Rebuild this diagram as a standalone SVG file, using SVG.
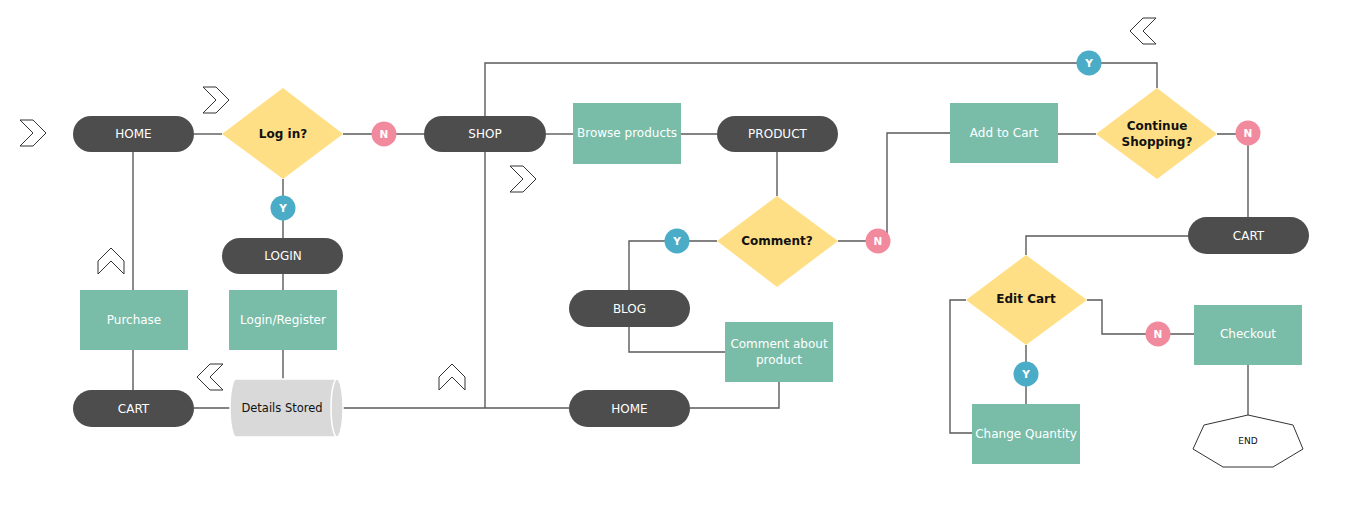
<svg xmlns="http://www.w3.org/2000/svg" width="1354" height="517" viewBox="0 0 1354 517">
<style>
.pill{fill:#4d4d4d}
.proc{fill:#79bda9}
.dec{fill:#ffdf85}
.yc{fill:#4aacc6}
.nc{fill:#f28a9e}
.ln{fill:none;stroke:#5a5a5a;stroke-width:1.4}
.chev{fill:#fff;stroke:#333;stroke-width:1}
.wt{font-family:"DejaVu Sans",Verdana,sans-serif;font-size:12px;fill:#fff;text-anchor:middle;dominant-baseline:central}
.bt{font-family:"DejaVu Sans",Verdana,sans-serif;font-size:12px;font-weight:bold;fill:#111;text-anchor:middle;dominant-baseline:central}
.ct{font-family:"DejaVu Sans",Verdana,sans-serif;font-size:10.5px;font-weight:bold;fill:#fff;text-anchor:middle;dominant-baseline:central}
.kt{font-family:"DejaVu Sans",Verdana,sans-serif;font-size:11.5px;fill:#111;text-anchor:middle;dominant-baseline:central}
</style>
<rect width="1354" height="517" fill="#fff"/>
<g id="connectors">
<path class="ln" d="M194,134 H222"/>
<path class="ln" d="M343,134 H424"/>
<path class="ln" d="M283,179 V238"/>
<path class="ln" d="M283,274 V290"/>
<path class="ln" d="M283,350 V379"/>
<path class="ln" d="M133,152 V290"/>
<path class="ln" d="M133,350 V390"/>
<path class="ln" d="M194,408 H230"/>
<path class="ln" d="M343,408 H569"/>
<path class="ln" d="M485,152 V408"/>
<path class="ln" d="M485,116 V63 H1157 V88"/>
<path class="ln" d="M546,134 H573"/>
<path class="ln" d="M681,134 H717"/>
<path class="ln" d="M777,152 V196"/>
<path class="ln" d="M717,241 H629 V290"/>
<path class="ln" d="M629,327 V352 H725"/>
<path class="ln" d="M779,382 V408 H690"/>
<path class="ln" d="M838,241 H887 V133 H950"/>
<path class="ln" d="M1058,134 H1096"/>
<path class="ln" d="M1217,134 H1248 V218"/>
<path class="ln" d="M1188,236 H1026 V255"/>
<path class="ln" d="M1026,345 V404"/>
<path class="ln" d="M966,300 H950 V433 H972"/>
<path class="ln" d="M1087,300 H1102 V334 H1194"/>
<path class="ln" d="M1248,364 V415"/>
</g>
<g id="chevrons">
<polygon class="chev" points="20,120 33,120 46,133 33,146 20,146 33,133"/>
<polygon class="chev" points="203,87 216,87 229,100 216,113 203,113 216,100"/>
<polygon class="chev" points="98,274 98,261 111,248 124,261 124,274 111,261"/>
<polygon class="chev" points="223,364 210,364 197,377 210,390 223,390 210,377"/>
<polygon class="chev" points="439,390 439,377 452,364 465,377 465,390 452,377"/>
<polygon class="chev" points="510,166 523,166 536,179 523,192 510,192 523,179"/>
<polygon class="chev" points="1156,18 1143,18 1130,31 1143,44 1156,44 1143,31"/>
</g>
<g id="home1"><rect class="pill" x="73" y="116" width="121" height="36" rx="18"/><text class="wt" x="133.5" y="134">HOME</text></g>
<g id="login-q"><polygon class="dec" points="283,88 343,134 283,179 222,134"/><text class="bt" x="283" y="134">Log in?</text></g>
<g id="n1"><circle class="nc" cx="384" cy="134" r="12.5"/><text class="ct" x="384" y="134">N</text></g>
<g id="y1"><circle class="yc" cx="283" cy="208" r="12.5"/><text class="ct" x="283" y="208">Y</text></g>
<g id="login"><rect class="pill" x="222" y="238" width="121" height="36" rx="18"/><text class="wt" x="283" y="256">LOGIN</text></g>
<g id="purchase"><rect class="proc" x="80" y="290" width="108" height="60"/><text class="wt" x="134" y="320">Purchase</text></g>
<g id="loginreg"><rect class="proc" x="229" y="290" width="108" height="60"/><text class="wt" x="283" y="320">Login/Register</text></g>
<g id="cart1"><rect class="pill" x="73" y="390" width="121" height="37" rx="18.5"/><text class="wt" x="133.5" y="408.5">CART</text></g>
<g id="details">
<path d="M236,379 H337 A6,29 0 0 1 337,437 H236 A6,29 0 0 1 236,379 Z" fill="#d9d9d9" stroke="#fff" stroke-width="1.5"/>
<path d="M337,379 A6,29 0 0 0 337,437" fill="none" stroke="#fff" stroke-width="1.5"/>
<text class="kt" x="282" y="408">Details Stored</text>
</g>
<g id="shop"><rect class="pill" x="424" y="116" width="122" height="36" rx="18"/><text class="wt" x="485" y="134">SHOP</text></g>
<g id="browse"><rect class="proc" x="573" y="103" width="108" height="61"/><text class="wt" x="627" y="133">Browse products</text></g>
<g id="product"><rect class="pill" x="717" y="116" width="121" height="36" rx="18"/><text class="wt" x="777.5" y="134">PRODUCT</text></g>
<g id="comment-q"><polygon class="dec" points="777,196 838,241 777,287 717,241"/><text class="bt" x="777" y="241">Comment?</text></g>
<g id="y2"><circle class="yc" cx="677" cy="241" r="12.5"/><text class="ct" x="677" y="241">Y</text></g>
<g id="n2"><circle class="nc" cx="878" cy="241" r="12.5"/><text class="ct" x="878" y="241">N</text></g>
<g id="blog"><rect class="pill" x="569" y="290" width="121" height="37" rx="18.5"/><text class="wt" x="629.5" y="308.5">BLOG</text></g>
<g id="comment-about"><rect class="proc" x="725" y="322" width="108" height="60"/><text class="wt" x="779" y="344">Comment about</text><text class="wt" x="779" y="360">product</text></g>
<g id="home2"><rect class="pill" x="569" y="390" width="121" height="37" rx="18.5"/><text class="wt" x="629.5" y="408.5">HOME</text></g>
<g id="addcart"><rect class="proc" x="950" y="103" width="108" height="60"/><text class="wt" x="1004" y="133">Add to Cart</text></g>
<g id="continue-q"><polygon class="dec" points="1157,88 1217,134 1157,179 1096,134"/><text class="bt" x="1157" y="126">Continue</text><text class="bt" x="1157" y="142">Shopping?</text></g>
<g id="y3"><circle class="yc" cx="1089" cy="63" r="12.5"/><text class="ct" x="1089" y="63">Y</text></g>
<g id="n3"><circle class="nc" cx="1248" cy="133" r="12.5"/><text class="ct" x="1248" y="133">N</text></g>
<g id="cart2"><rect class="pill" x="1188" y="217" width="121" height="37" rx="18.5"/><text class="wt" x="1248.5" y="235.5">CART</text></g>
<g id="edit-q"><polygon class="dec" points="1026,255 1087,300 1026,345 966,300"/><text class="bt" x="1026" y="299">Edit Cart</text></g>
<g id="y4"><circle class="yc" cx="1026" cy="374" r="12.5"/><text class="ct" x="1026" y="374">Y</text></g>
<g id="changeqty"><rect class="proc" x="972" y="404" width="108" height="60"/><text class="wt" x="1026" y="434">Change Quantity</text></g>
<g id="n4"><circle class="nc" cx="1158" cy="334" r="12.5"/><text class="ct" x="1158" y="334">N</text></g>
<g id="checkout"><rect class="proc" x="1194" y="305" width="108" height="60"/><text class="wt" x="1248" y="334">Checkout</text></g>
<g id="end"><polygon points="1248,415 1293,425 1303,449 1273,467 1223,467 1193,449 1204,425" fill="#fff" stroke="#333" stroke-width="1"/><text x="1248" y="441" font-family="DejaVu Sans,Verdana,sans-serif" font-size="9" fill="#111" text-anchor="middle" dominant-baseline="central">END</text></g>
</svg>
